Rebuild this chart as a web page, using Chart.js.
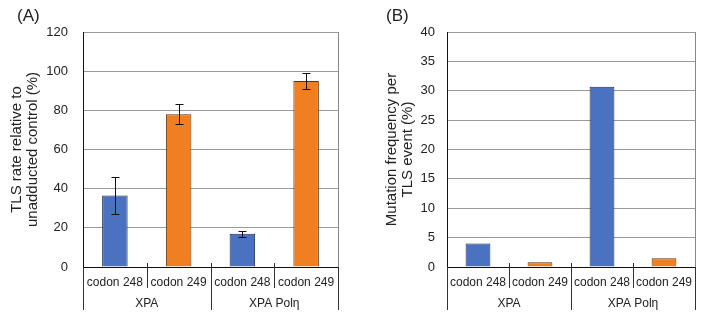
<!DOCTYPE html>
<html lang="en">
<head>
<meta charset="UTF-8">
<title>TLS rate and mutation frequency</title>
<script src="https://cdn.jsdelivr.net/npm/chart.js"></script>
<style>
    body { margin: 0; background: #fff; font-family: "Liberation Sans", Arial, sans-serif; }
    #wrap { position: relative; width: 704px; height: 319px; }
    .panel { position: absolute; top: 0; width: 352px; height: 319px; }
    .tag { position: absolute; top: 6px; font-size: 17px; color: #222; }
</style>
</head>
<body>
<div id="wrap">
    <div class="panel" style="left:0"><canvas id="chartA"></canvas></div>
    <div class="panel" style="left:352px"><canvas id="chartB"></canvas></div>
    <div class="tag" style="left:17px">(A)</div>
    <div class="tag" style="left:386px">(B)</div>
</div>

<script>
// data
var categories = ['codon 248', 'codon 249', 'codon 248', 'codon 249'];
var groups = ['XPA', 'XPA Polη'];
var tlsRate = [36.5, 78, 17, 95];
var tlsErr = [9.5, 5, 1.5, 4];
var mutFreq = [4.0, 0.8, 30.7, 1.5];

var barFill = ['#4a72c0', '#f07f22', '#4a72c0', '#f07f22'];
var barEdge = ['#1e2d4e', '#5c3210', '#1e2d4e', '#5c3210'];

var fontFamily = '"Liberation Sans", Arial, sans-serif';

// error bars from the y scale
var errorBars = {
    id: 'errorBars',
    afterDatasetsDraw: function (chart, args, opts) {
        if (!opts.errors) return;
        var ctx = chart.ctx;
        var meta = chart.getDatasetMeta(0);
        var y = chart.scales.y;
        var values = chart.data.datasets[0].data;
        ctx.save();
        ctx.strokeStyle = '#111';
        ctx.lineWidth = 1;
        meta.data.forEach(function (bar, i) {
            var top = Math.round(y.getPixelForValue(values[i] + opts.errors[i])) + 0.5;
            var bot = Math.round(y.getPixelForValue(values[i] - opts.errors[i])) + 0.5;
            var x = Math.round(bar.x) + 0.5;
            ctx.beginPath();
            ctx.moveTo(x, top); ctx.lineTo(x, bot);
            ctx.moveTo(x - 4, top); ctx.lineTo(x + 4, top);
            ctx.moveTo(x - 4, bot); ctx.lineTo(x + 4, bot);
            ctx.stroke();
        });
        ctx.restore();
    }
};

// grouped category axis: separators + group labels, right frame line
var groupAxis = {
    id: 'groupAxis',
    afterDraw: function (chart) {
        var ctx = chart.ctx;
        var x = chart.scales.x;
        var area = chart.chartArea;
        var n = categories.length;
        var half = (x.getPixelForValue(1) - x.getPixelForValue(0)) / 2;
        ctx.save();
        ctx.strokeStyle = '#888';
        ctx.beginPath();
        ctx.moveTo(Math.round(area.right) + 0.5, area.top);
        ctx.lineTo(Math.round(area.right) + 0.5, area.bottom);
        ctx.stroke();
        ctx.strokeStyle = '#333';
        ctx.lineWidth = 1;
        for (var i = 0; i <= n; i++) {
            var px = Math.round(x.getPixelForValue(i) - half) + 0.5;
            var isGroupEdge = (i % 2 === 0);
            ctx.beginPath();
            ctx.moveTo(px, (i === 0 || i === n) ? area.bottom : area.bottom - 4);
            ctx.lineTo(px, area.bottom + (isGroupEdge ? 43 : 21));
            ctx.stroke();
        }
        ctx.fillStyle = '#222';
        ctx.font = '12px ' + fontFamily;
        ctx.textAlign = 'center';
        ctx.textBaseline = 'middle';
        groups.forEach(function (g, gi) {
            var cx = (x.getPixelForValue(gi * 2) + x.getPixelForValue(gi * 2 + 1)) / 2;
            ctx.fillText(g, cx, area.bottom + 37);
        });
        ctx.restore();
    }
};

function makeChart(id, values, yMax, yStep, titleLines, yWidth, titlePad, tickPad, rightPad, errors) {
    var ctx = document.getElementById(id).getContext('2d');
    return new Chart(ctx, {
        type: 'bar',
        data: {
            labels: categories,
            datasets: [{
                data: values,
                backgroundColor: barFill,
                borderColor: barEdge,
                borderWidth: 1,
                barPercentage: 0.4,
                categoryPercentage: 1.0
            }]
        },
        options: {
            responsive: true,
            maintainAspectRatio: false,
            animation: false,
            layout: { padding: { top: 32, right: rightPad, left: 0, bottom: 0 } },
            plugins: {
                legend: { display: false },
                tooltip: { enabled: false },
                errorBars: { errors: errors }
            },
            scales: {
                x: {
                    grid: { display: false },
                    border: { display: true, color: '#111', width: 1 },
                    ticks: {
                        color: '#222',
                        padding: 0,
                        maxRotation: 0,
                        autoSkip: false,
                        font: { family: fontFamily, size: 12 }
                    },
                    afterFit: function (s) { s.height = 52; }
                },
                y: {
                    min: 0,
                    max: yMax,
                    ticks: {
                        stepSize: yStep,
                        color: '#222',
                        padding: tickPad,
                        font: { family: fontFamily, size: 13 }
                    },
                    grid: { color: '#9a9a9a', drawTicks: false },
                    border: { display: true, color: '#111', width: 1 },
                    title: {
                        display: true,
                        text: titleLines,
                        color: '#222',
                        padding: { top: titlePad, bottom: 0 },
                        font: { family: fontFamily, size: 15, lineHeight: 1.05 }
                    },
                    afterFit: function (s) { s.width = yWidth; }
                }
            }
        },
        plugins: [errorBars, groupAxis]
    });
}

makeChart('chartA', tlsRate, 120, 20,
    ['TLS rate relative to', 'unadducted control (%)'], 83, 9, 15, 14, tlsErr);
makeChart('chartB', mutFreq, 40, 5,
    ['Mutation frequency per', 'TLS event (%)'], 95, 32, 12, 9, null);
</script>
</body>
</html>
